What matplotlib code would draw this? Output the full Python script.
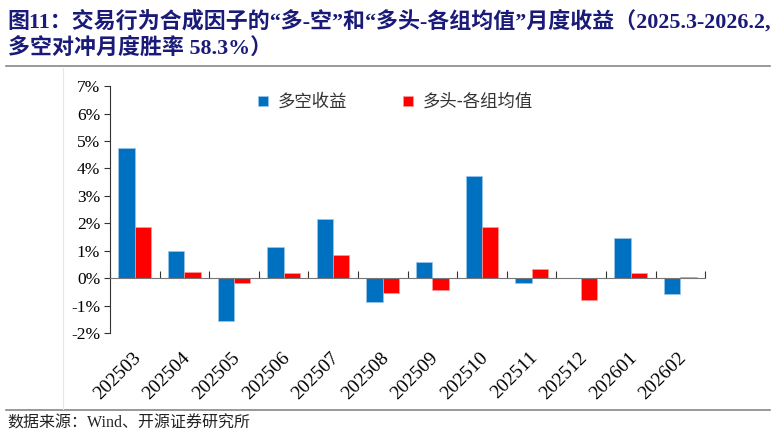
import matplotlib
matplotlib.use("Agg")
import matplotlib.pyplot as plt
import matplotlib.transforms as mtransforms
import numpy as np
from matplotlib.lines import Line2D
from matplotlib.ticker import FuncFormatter, FixedLocator

plt.rcParams['font.family'] = ['Liberation Serif', 'Noto Sans CJK SC', 'DejaVu Sans']

months = ["202503", "202504", "202505", "202506", "202507", "202508",
          "202509", "202510", "202511", "202512", "202601", "202602"]
long_short = [4.74, 0.99, -1.57, 1.15, 2.15, -0.87, 0.59, 3.73, -0.19, 0.0, 1.45, -0.59]
long_avg = [1.85, 0.23, -0.19, 0.19, 0.83, -0.53, -0.45, 1.87, 0.33, -0.81, 0.17, 0.05]
series_names = ["多空收益", "多头-各组均值"]

BLUE = "#0070C0"
RED = "#FF0000"
NAVY = "#1a1a78"

fig = plt.figure(figsize=(7.74, 4.37), dpi=100)
ax = fig.add_axes([0.142, 0.238, 0.769, 0.565])

x = np.arange(len(months))
w = 0.33
ax.bar(x - w/2, long_short, w, color=BLUE, label=series_names[0], edgecolor="#9cc6ea", linewidth=0.5)
ax.bar(x + w/2, long_avg, w, color=RED, label=series_names[1], edgecolor="#ff9a9a", linewidth=0.5)

ax.set_xlim(-0.5, len(months) - 0.5)
ax.set_ylim(-2, 7)
ax.yaxis.set_major_locator(FixedLocator(np.arange(-2, 8, 1)))
ax.yaxis.set_major_formatter(FuncFormatter(lambda v, p: f"{v:.0f}%"))
ax.tick_params(axis="y", labelsize=12.5, length=4, direction="out", color="#333", pad=3)

# x axis runs through zero, ticks at the category boundaries
ax.spines["bottom"].set_position(("data", 0))
ax.spines["bottom"].set_color("#777")
ax.spines["left"].set_color("#333")
ax.spines["top"].set_visible(False)
ax.spines["right"].set_visible(False)
ax.set_xticks(np.arange(len(months) + 1) - 0.5)
ax.set_xticklabels([])
ax.tick_params(axis="x", length=5, direction="in", color="#333")

trans = mtransforms.blended_transform_factory(ax.transData, ax.transAxes)
for i, m in enumerate(months):
    ax.text(i - 0.05, -0.065, m, transform=trans, rotation=45, ha="right", va="top",
            rotation_mode="anchor", fontsize=14)

ax.legend(loc="upper center", bbox_to_anchor=(0.48, 1.035), ncol=2, frameon=False,
          handlelength=0.55, handleheight=0.55, columnspacing=3.2, handletextpad=0.6,
          prop={"family": ["Noto Sans CJK SC"], "size": 12.5}, labelcolor="#333")

# title
fig.text(0.010, 0.952, "图11：交易行为合成因子的“多-空”和“多头-各组均值”月度收益（2025.3-2026.2,",
         fontsize=15.8, fontweight="bold", color=NAVY, va="center", ha="left")
fig.text(0.010, 0.890, "多空对冲月度胜率 58.3%）",
         fontsize=15.8, fontweight="bold", color=NAVY, va="center", ha="left")

fig.add_artist(Line2D([0.008, 0.995], [0.850, 0.850], color="#888", linewidth=1.2))
fig.add_artist(Line2D([0.008, 0.995], [0.062, 0.062], color="#888", linewidth=1.2))
fig.add_artist(Line2D([0.081, 0.081], [0.065, 0.845], color="#e6e6e6", linewidth=0.8))

fig.text(0.010, 0.030, "数据来源：Wind、开源证券研究所", fontsize=11.5, color="#222",
         va="center", ha="left")

fig.savefig("out.png", dpi=100)
